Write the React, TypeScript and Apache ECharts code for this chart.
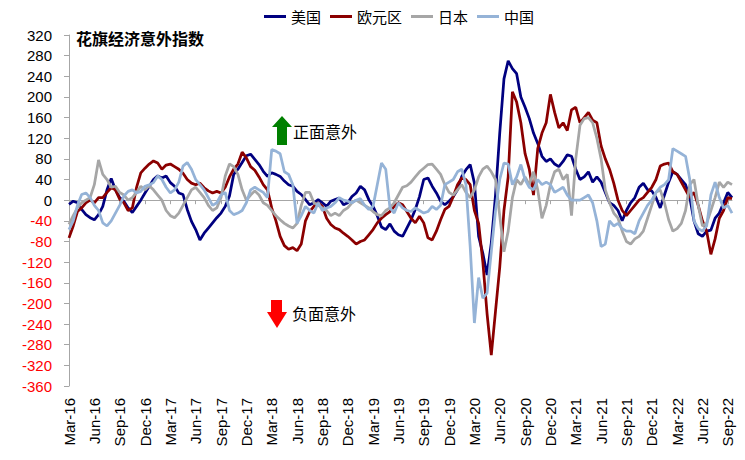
import React, { useEffect, useRef } from "react";
import * as echarts from "echarts";

// Half-monthly observations, Mar 2016 (1st half) to Sep 2022 (2nd half)
const MONTHS = ["Jan", "Feb", "Mar", "Apr", "May", "Jun", "Jul", "Aug", "Sep", "Oct", "Nov", "Dec"];
const categories: string[] = [];
for (let k = 0; k < 158; k++) {
  const m = 2 + Math.floor(k / 2);
  const y = 2016 + Math.floor(m / 12);
  const mm = m % 12;
  categories.push(`${MONTHS[mm]}-${String(y).slice(2)}${k % 2 === 0 ? "" : " H2"}`);
}

const legendNames = ["美国", "欧元区", "日本", "中国"];

const usData = [
  -8, -2, -5, -18, -28, -34, -38, -28, -12, 20,
  42, 20, 5, -2, -15, -24, -12, 0, 14, 27,
  40, 47, 43, 47, 34, 27, 14, 11, -18, -41,
  -57, -77, -64, -54, -44, -34, -25, -12, 8, 50,
  60, 73, 86, 89, 79, 69, 56, 46, 53, 50,
  46, 37, 30, 27, 17, 11, 1, -9, -5, 1,
  -5, -12, -2, 1, 4, -9, -5, 7, 14, 27,
  20, 1, -12, -30, -52, -57, -46, -60, -67, -70,
  -54, -38, -18, 7, 40, 43, 27, 14, -2, -9,
  -2, 7, 20, 46, 59, 69, 33, -70, -103, -145,
  -83, 10, 130, 235, 270, 255, 245, 200, 180, 158,
  130, 110, 85, 75, 80, 70, 65, 75, 88, 85,
  60, 40, 45, 55, 35, 45, 35, 15, -5, -10,
  -20, -40, -20, -5, 5, 25, 33, 20, 18, 5,
  -15, 10, 35, 55, 50, 40, 30, 5, -40, -65,
  -70, -60, -58, -35, -25, -5, 15, 5,
];

const euroData = [
  -73, -50, -22, -15, -5, 0, -5, 5, 5, 15,
  24, 20, 2, -5, -20, -15, 25, 53, 62, 70,
  76, 72, 60, 68, 70, 65, 60, 52, 40, 33,
  30, 33, 24, 18, 14, 17, 14, 25, 45, 60,
  70, 93, 82, 65, 58, 45, 30, 20, -15, -40,
  -70, -88, -95, -92, -98, -85, -40, -22, -12, -5,
  -12, -35, -47, -54, -57, -64, -70, -77, -85, -80,
  -77, -67, -57, -44, -35, -28, -22, -12, -5, -9,
  -22, -35, -44, -31, -44, -73, -77, -60, -38, -18,
  -12, 7, 30, 43, 40, 30, -20, -45, -120, -220,
  -300, -215, -130, -20, 45, 210, 190, 150, 90, 60,
  10, 100, 130, 150, 205, 170, 140, 150, 135, 175,
  180, 150, 160, 170, 155, 150, 105, 80, 60, 33,
  0, -20, -30, -20, -10, 0, 5, 15, 25, 40,
  66, 70, 72, 55, 50, 35, 20, 5, 15, -10,
  -40, -60, -105, -75, -35, -20, 5, 3,
];

const japanData = [
  -47, -30, -15, -5, 0, 5, 30, 78, 50, 40,
  25, 27, 15, 10, 0, 5, 15, 27, 20, 28,
  20, 10, 0, -20, -30, -34, -25, -10, 5, 20,
  25, 15, 5, -10, -20, -15, 5, 47, 70, 65,
  50, 20, 0, 10, 18, 10, -5, -10, -20, -30,
  -38, -45, -50, -54, -45, -10, 15, 15, -5, -10,
  -15, -20, -30, -25, -30, -20, -15, -5, 0, -5,
  -10, -15, -22, -28, -30, -20, -15, -5, 10, 25,
  28, 35, 45, 55, 62, 69, 70, 60, 50, 30,
  15, 10, 20, 30, 15, 5, 20, 45, 60, 66,
  55, 40, -30, -100, -60, 5, 40, 30, 45, 30,
  55, 20, -35, -10, 30, 55, 60, 40, 50, -30,
  80, 145, 158, 160, 150, 120, 80, 20, -5, -25,
  -35, -60, -80, -85, -75, -70, -60, -35, -10, 15,
  20, -5, -38, -60, -55, -45, -20, 30, 40, -10,
  -50, -45, -20, 5, 35, 25, 35, 30,
];

const chinaData = [
  -57, -40, -10, 11, 14, 5, -10, -20, -44, -50,
  -40, -25, -10, 8, 17, 20, 14, 17, 27, 30,
  34, 47, 40, 25, 14, 20, 35, 66, 73, 60,
  40, 30, 20, 5, -10, -5, 10, 15, -20, -28,
  -25, -20, -5, 20, 25, 20, 15, 5, 98, 95,
  90, 55, 50, 30, -45, -30, -12, -20, -25, -5,
  -20, -15, -12, -5, 5, 0, -2, -5, 0, 3,
  -10, -18, -12, 30, 72, 60, -15, -25, -5, -15,
  -20, -22, -15, -20, -25, -22, -12, -18, -10, 30,
  35, 40, 55, 60, 30, -90, -238, -150, -190, -180,
  -100, -20, 40, 72, 70, 30, 45, 69, 40, 25,
  20, 40, 30, 35, 30, 15, 20, 25, 10, 0,
  0, 0, 5, 10, -5, -40, -90, -85, -40, -50,
  -45, -55, -60, -60, -65, -40, -25, -10, 0, 15,
  25, 30, 40, 100, 95, 90, 85, 40, -40, -55,
  -60, -50, 10, 35, 5, -15, -10, -25,
];

const seriesColors = ["#000080", "#8B0000", "#A6A6A6", "#95B3D7"];
const FONT = "'Liberation Sans', Arial, 'Noto Sans CJK SC', sans-serif";
const CJK = "'Noto Sans CJK SC', 'Liberation Sans', sans-serif";

export default function App() {
  const ref = useRef<HTMLDivElement>(null);

  useEffect(() => {
    document.body.style.margin = "0";
    if (!ref.current) return;
    const chart = echarts.init(ref.current, undefined, { renderer: "svg" });
    const dataSets = [usData, euroData, japanData, chinaData];

    chart.setOption({
      animation: false,
      backgroundColor: "#ffffff",
      grid: { left: 69, right: 13, top: 35, bottom: 74, containLabel: false },
      legend: {
        data: legendNames,
        left: 264,
        top: 9,
        icon: "rect",
        itemWidth: 22,
        itemHeight: 3,
        itemGap: 9,
        padding: 0,
        textStyle: { fontSize: 15, color: "#000", fontFamily: CJK },
      },
      xAxis: [
        {
          type: "category",
          data: categories,
          boundaryGap: false,
          position: "bottom",
          axisLine: { show: false, onZero: false },
          axisTick: { show: false },
          splitLine: { show: false },
          axisLabel: {
            interval: 5,
            rotate: 90,
            margin: 12,
            fontSize: 15,
            color: "#000",
            fontFamily: FONT,
            formatter: (v: string) => v.replace(" H2", ""),
          },
        },
        {
          type: "category",
          data: categories,
          boundaryGap: false,
          position: "bottom",
          axisLine: { show: true, onZero: true, lineStyle: { color: "#A6A6A6", width: 1 } },
          axisTick: { show: true, interval: 5, length: 4, lineStyle: { color: "#A6A6A6" } },
          axisLabel: { show: false },
          splitLine: { show: false },
        },
      ],
      yAxis: {
        type: "value",
        min: -360,
        max: 320,
        interval: 40,
        axisLine: { show: true, lineStyle: { color: "#A6A6A6", width: 1 } },
        axisTick: { show: true, length: 5, lineStyle: { color: "#A6A6A6" } },
        splitLine: { show: false },
        axisLabel: {
          margin: 17,
          formatter: (v: number) => (v < 0 ? `{r|${v}}` : `{b|${v}}`),
          rich: {
            r: { color: "#FF0000", fontSize: 15, fontFamily: FONT },
            b: { color: "#000000", fontSize: 15, fontFamily: FONT },
          },
        },
      },
      series: legendNames.map((name, idx) => ({
        name,
        type: "line",
        xAxisIndex: 0,
        data: dataSets[idx],
        showSymbol: false,
        symbol: "none",
        color: seriesColors[idx],
        lineStyle: { width: 2.75, color: seriesColors[idx] },
        z: 2 + idx,
      })),
      graphic: [
        {
          type: "text",
          x: 76,
          y: 38,
          style: {
            text: "花旗经济意外指数",
            fill: "#000",
            font: `bold 16px ${CJK}`,
            verticalAlign: "middle",
          },
        },
        {
          type: "polygon",
          shape: {
            points: [
              [282, 116], [292, 127], [287, 127], [287, 145],
              [277, 145], [277, 127], [272, 127],
            ],
          },
          style: { fill: "#008000" },
        },
        {
          type: "text",
          x: 293,
          y: 131,
          style: {
            text: "正面意外",
            fill: "#000",
            font: `16px ${CJK}`,
            verticalAlign: "middle",
          },
        },
        {
          type: "polygon",
          shape: {
            points: [
              [271, 300], [282, 300], [282, 312], [287, 312],
              [277, 328], [267, 312], [271, 312],
            ],
          },
          style: { fill: "#FF0000" },
        },
        {
          type: "text",
          x: 292,
          y: 313,
          style: {
            text: "负面意外",
            fill: "#000",
            font: `16px ${CJK}`,
            verticalAlign: "middle",
          },
        },
      ],
    });

    return () => chart.dispose();
  }, []);

  return <div ref={ref} style={{ width: 745, height: 460 }} />;
}
